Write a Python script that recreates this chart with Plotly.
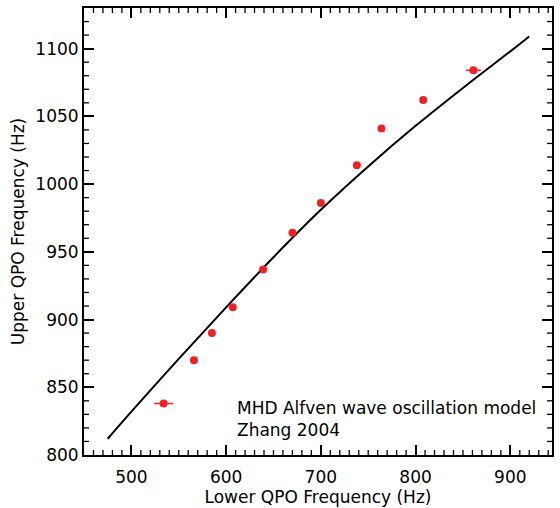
import plotly.graph_objects as go

# Observed kHz QPO pairs
lower_qpo = [534, 566, 585, 607, 639, 670, 700, 738, 764, 808, 861]
upper_qpo = [838, 870, 890, 909, 937, 964, 986, 1014, 1041, 1062, 1084]
lower_err = [10, 0, 0, 0, 0, 0, 0, 0, 0, 0, 8]

# Model curve
model_x = [475, 500, 550, 600, 650, 700, 750, 800, 850, 900, 920]
model_y = [812, 832, 871, 909, 946, 981, 1013, 1043, 1071, 1098, 1109]

X_RANGE = [450, 944]
Y_RANGE = [800, 1130]
x_minor_ticks = [v for v in range(460, 944, 10) if v % 100 != 0]
y_minor_ticks = [v for v in range(810, 1130, 10) if v % 50 != 0]

FONT = "DejaVu Sans"
W, H = 560, 508
MARGIN = dict(l=84, r=7, t=6, b=53)
MINOR_LEN_PX = 5

plot_w = W - MARGIN["l"] - MARGIN["r"]
plot_h = H - MARGIN["t"] - MARGIN["b"]
dx = MINOR_LEN_PX * (X_RANGE[1] - X_RANGE[0]) / plot_w
dy = MINOR_LEN_PX * (Y_RANGE[1] - Y_RANGE[0]) / plot_h

# minor tick segments (inside, all four sides), expressed in axis units
tx, ty = [], []
for v in x_minor_ticks:
    tx += [v, v, None, v, v, None]
    ty += [Y_RANGE[0], Y_RANGE[0] + dy, None, Y_RANGE[1], Y_RANGE[1] - dy, None]
for v in y_minor_ticks:
    tx += [X_RANGE[0], X_RANGE[0] + dx, None, X_RANGE[1], X_RANGE[1] - dx, None]
    ty += [v, v, None, v, v, None]

fig = go.Figure()
fig.add_trace(go.Scatter(
    x=tx, y=ty, mode="lines", line=dict(color="black", width=1.3),
    showlegend=False, hoverinfo="skip", connectgaps=False, cliponaxis=False))
fig.add_trace(go.Scatter(
    x=model_x, y=model_y, mode="lines", line=dict(color="black", width=2, shape="spline"),
    showlegend=False, hoverinfo="skip"))
fig.add_trace(go.Scatter(
    x=lower_qpo, y=upper_qpo, mode="markers",
    marker=dict(color="#ee2222", size=8, line=dict(width=0)),
    error_x=dict(type="data", array=lower_err, color="#ee2222", thickness=1.5, width=0),
    showlegend=False))

fig.add_annotation(
    x=0.322, y=0.03, xref="paper", yref="paper", xanchor="left", yanchor="bottom",
    text="MHD Alfven wave oscillation model<br>Zhang 2004", align="left",
    showarrow=False, font=dict(family=FONT, size=17, color="black"))

axis_common = dict(
    showline=True, linecolor="black", linewidth=2, mirror="ticks",
    ticks="inside", ticklen=10, tickwidth=1.5, tickcolor="black",
    showgrid=False, zeroline=False,
    tickfont=dict(family=FONT, size=17, color="black"),
)

fig.update_xaxes(
    range=X_RANGE, tick0=500, dtick=100, ticklabelstandoff=6,
    title=dict(text="Lower QPO Frequency (Hz)", font=dict(family=FONT, size=17, color="black"), standoff=2),
    **axis_common)
fig.update_yaxes(
    range=Y_RANGE, tick0=800, dtick=50,
    title=dict(text="Upper QPO Frequency (Hz)", font=dict(family=FONT, size=17, color="black"), standoff=6),
    **axis_common)

fig.update_layout(
    width=W, height=H,
    margin=MARGIN,
    plot_bgcolor="white", paper_bgcolor="white",
    font=dict(family=FONT, size=17, color="black"),
)

fig.write_html("out.html")
